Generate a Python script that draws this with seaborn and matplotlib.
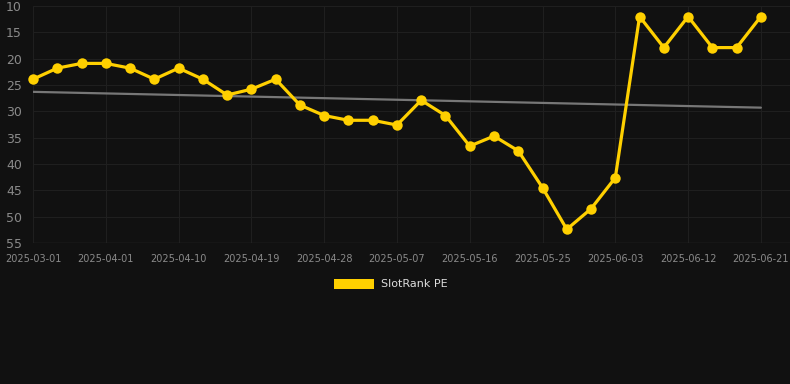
import numpy as np
import pandas as pd
import matplotlib
matplotlib.use('Agg')
import matplotlib.pyplot as plt
import seaborn as sns
from matplotlib.patches import Patch

# data (rank, lower is better -> inverted axis)
dates = ['2025-03-01', '2025-03-26', '2025-03-29', '2025-04-01', '2025-04-04',
         '2025-04-07', '2025-04-10', '2025-04-13', '2025-04-16', '2025-04-19',
         '2025-04-22', '2025-04-25', '2025-04-28', '2025-05-01', '2025-05-04',
         '2025-05-07', '2025-05-10', '2025-05-13', '2025-05-16', '2025-05-19',
         '2025-05-22', '2025-05-25', '2025-05-28', '2025-05-31', '2025-06-03',
         '2025-06-06', '2025-06-09', '2025-06-12', '2025-06-15', '2025-06-18',
         '2025-06-21']
rank = [23.9, 21.8, 20.9, 20.9, 21.8, 23.9, 21.8, 23.9, 26.9, 25.8,
        23.9, 28.8, 30.8, 31.7, 31.7, 32.6, 27.9, 30.8, 36.6, 34.7,
        37.5, 44.5, 52.4, 48.5, 42.6, 12.0, 17.9, 12.0, 17.9, 17.9,
        12.0]
trend_ends = [26.3, 29.3]
y_ticks = [10, 15, 20, 25, 30, 35, 40, 45, 50, 55]

df = pd.DataFrame({'idx': np.arange(len(dates)), 'rank': rank, 'date': dates})

bg = '#111111'
gold = '#FFD000'

sns.set_theme(style='dark')
plt.rcParams['font.family'] = ['DejaVu Sans']

fig = plt.figure(figsize=(7.9, 3.84), dpi=100, facecolor=bg)
ax = fig.add_axes([33 / 790, 1 - 243 / 384, 1 - 33 / 790, (243 - 6) / 384])
ax.set_facecolor(bg)

# trend line
ax.plot([0, len(dates) - 1], trend_ends, color='#777777', lw=1.6, zorder=2)

sns.lineplot(data=df, x='idx', y='rank', ax=ax, color=gold, lw=2.3,
             marker='o', markersize=7.5, markeredgewidth=0, zorder=3,
             clip_on=False)

ax.set_xlim(0, 31.2)
ax.set_ylim(55, 10)
ax.set_yticks(y_ticks)
ax.set_yticklabels([str(v) for v in y_ticks], fontsize=9, color='#8a8a8a')
tick_idx = list(range(0, len(dates), 3))
ax.set_xticks(tick_idx)
ax.set_xticklabels([dates[i] for i in tick_idx], fontsize=7, color='#8a8a8a')
ax.tick_params(axis='both', length=0)
ax.tick_params(axis='y', pad=8)
ax.tick_params(axis='x', pad=8)
ax.set_xlabel('')
ax.set_ylabel('')
ax.grid(True, color='#1f1f1f', lw=0.8)
for s in ax.spines.values():
    s.set_visible(False)
ax.axhline(55, color='#2e2e2e', lw=1, zorder=1)

handle = Patch(facecolor=gold, edgecolor='none')
fig.legend([handle], ['SlotRank PE'], loc='center', bbox_to_anchor=(0.495, 1 - 284 / 384),
           frameon=False, fontsize=8, labelcolor='#dddddd',
           handlelength=3.6, handleheight=1.0, handletextpad=0.6)

fig.savefig('out.png', dpi=100, facecolor=bg)
